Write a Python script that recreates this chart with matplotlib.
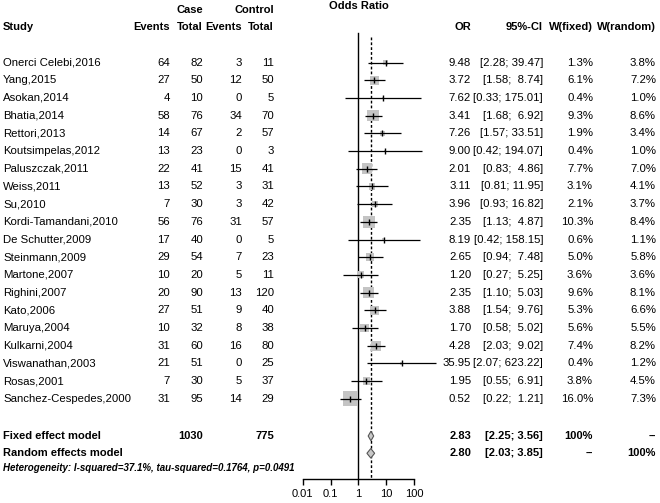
import matplotlib
matplotlib.use("Agg")
import matplotlib.pyplot as plt
from matplotlib.transforms import blended_transform_factory
import numpy as np

plt.rcParams['font.family'] = ['Liberation Sans', 'DejaVu Sans']

# study data
studies = ["Onerci Celebi,2016", "Yang,2015", "Asokan,2014", "Bhatia,2014",
           "Rettori,2013", "Koutsimpelas,2012", "Paluszczak,2011", "Weiss,2011",
           "Su,2010", "Kordi-Tamandani,2010", "De Schutter,2009", "Steinmann,2009",
           "Martone,2007", "Righini,2007", "Kato,2006", "Maruya,2004",
           "Kulkarni,2004", "Viswanathan,2003", "Rosas,2001", "Sanchez-Cespedes,2000"]
case_events = [64, 27, 4, 58, 14, 13, 22, 13, 7, 56, 17, 29, 10, 20, 27, 10, 31, 21, 7, 31]
case_total = [82, 50, 10, 76, 67, 23, 41, 52, 30, 76, 40, 54, 20, 90, 51, 32, 60, 51, 30, 95]
ctrl_events = [3, 12, 0, 34, 2, 0, 15, 3, 3, 31, 0, 7, 5, 13, 9, 8, 16, 0, 5, 14]
ctrl_total = [11, 50, 5, 70, 57, 3, 41, 31, 42, 57, 5, 23, 11, 120, 40, 38, 80, 25, 37, 29]
odds = [9.48, 3.72, 7.62, 3.41, 7.26, 9.00, 2.01, 3.11, 3.96, 2.35,
        8.19, 2.65, 1.20, 2.35, 3.88, 1.70, 4.28, 35.95, 1.95, 0.52]
ci_low = [2.28, 1.58, 0.33, 1.68, 1.57, 0.42, 0.83, 0.81, 0.93, 1.13,
          0.42, 0.94, 0.27, 1.10, 1.54, 0.58, 2.03, 2.07, 0.55, 0.22]
ci_high = [39.47, 8.74, 175.01, 6.92, 33.51, 194.07, 4.86, 11.95, 16.82, 4.87,
           158.15, 7.48, 5.25, 5.03, 9.76, 5.02, 9.02, 623.22, 6.91, 1.21]
w_fixed = [1.3, 6.1, 0.4, 9.3, 1.9, 0.4, 7.7, 3.1, 2.1, 10.3,
           0.6, 5.0, 3.6, 9.6, 5.3, 5.6, 7.4, 0.4, 3.8, 16.0]
w_random = [3.8, 7.2, 1.0, 8.6, 3.4, 1.0, 7.0, 4.1, 3.7, 8.4,
            1.1, 5.8, 3.6, 8.1, 6.6, 5.5, 8.2, 1.2, 4.5, 7.3]

fixed_or, fixed_lo, fixed_hi = 2.83, 2.25, 3.56
random_or, random_lo, random_hi = 2.80, 2.03, 3.85
case_sum, ctrl_sum = 1030, 775
het_text = "Heterogeneity: I-squared=37.1%, tau-squared=0.1764, p=0.0491"
tick_vals = [0.01, 0.1, 1, 10, 100]
tick_labels = ["0.01", "0.1", "1", "10", "100"]

W, H = 660, 503
fig = plt.figure(figsize=(6.6, 5.03), dpi=100)

# pixel geometry of the reference
row0, row_h = 62.5, 17.7
axis_px = 479
x001, dec = 302.7, 27.83
ax_left, ax_right = 290, 440


def row_of(py):
    return (py - row0) / row_h


ax = fig.add_axes([ax_left / W, (H - axis_px) / H, (ax_right - ax_left) / W, axis_px / H])
ax.set_xscale("log")
ax.set_xlim(10 ** (-2 - (x001 - ax_left) / dec), 10 ** (-2 + (ax_right - x001) / dec))
ax.set_ylim(row_of(axis_px), row_of(0))
ax.patch.set_visible(False)
for s in ["top", "left", "right"]:
    ax.spines[s].set_visible(False)
ax.spines["bottom"].set_bounds(0.01, 100)
ax.spines["bottom"].set_linewidth(1.0)
ax.set_yticks([])
ax.set_xticks(tick_vals)
ax.set_xticklabels(tick_labels, fontsize=8)
ax.xaxis.set_minor_locator(matplotlib.ticker.NullLocator())
ax.tick_params(axis="x", length=4, width=1, pad=3)

fs = 8.2
fs_bold = 8
ypos = np.arange(len(studies))

# reference lines
ax.plot([1, 1], [row_of(33), row_of(axis_px)], color="black", lw=1.0)
ax.plot([fixed_or, fixed_or], [row_of(37), row_of(axis_px)], color="black", lw=1.0,
        linestyle=(0, (2, 1.5)))

# boxes, CIs and point ticks
sides = 3.75 * np.sqrt(np.array(w_fixed))
ax.scatter(odds, ypos, s=(sides * 0.72) ** 2, marker="s", color="#c4c4c4",
           linewidths=0, zorder=2)
ax.hlines(ypos, ci_low, ci_high, color="black", lw=0.9, zorder=3)
ax.plot(odds, ypos, linestyle="none", marker="|", markersize=4, color="black",
        markeredgewidth=1.0, zorder=4)

# diamonds
y_fix, y_ran = row_of(436), row_of(453.3)
dh = 0.27
for est, lo, hi, yy in [(fixed_or, fixed_lo, fixed_hi, y_fix),
                        (random_or, random_lo, random_hi, y_ran)]:
    ax.fill([lo, est, hi, est], [yy, yy - dh, yy, yy + dh], facecolor="#c8c8c8",
            edgecolor="#555555", lw=0.8, zorder=5)

# text columns
tr = blended_transform_factory(fig.transFigure, ax.transData)


def txt(px, y, s, ha="right", bold=False, size=None, style="normal"):
    if size is None:
        size = fs_bold if bold else fs
    ax.text(px / W, y, s, transform=tr, ha=ha, va="center", fontsize=size,
            fontweight="bold" if bold else "normal", fontstyle=style, clip_on=False)


y_top, y_head = row_of(10), row_of(27)
txt(203, y_top, "Case", bold=True)
txt(274, y_top, "Control", bold=True)
txt(359, row_of(6), "Odds Ratio", ha="center", bold=True)
txt(3, y_head, "Study", ha="left", bold=True)
txt(170, y_head, "Events", bold=True)
txt(203, y_head, "Total", bold=True)
txt(242, y_head, "Events", bold=True)
txt(274, y_head, "Total", bold=True)
txt(471, y_head, "OR", bold=True)
txt(543, y_head, "95%-CI", bold=True)
txt(593, y_head, "W(fixed)", bold=True)
txt(656, y_head, "W(random)", bold=True)

for i in range(len(studies)):
    txt(3, i, studies[i], ha="left")
    txt(170, i, str(case_events[i]))
    txt(203, i, str(case_total[i]))
    txt(242, i, str(ctrl_events[i]))
    txt(274, i, str(ctrl_total[i]))
    txt(471, i, "%.2f" % odds[i])
    txt(543, i, "[%.2f; %5.2f]" % (ci_low[i], ci_high[i]))
    txt(593, i, "%.1f%%" % w_fixed[i])
    txt(656, i, "%.1f%%" % w_random[i])

txt(3, y_fix, "Fixed effect model", ha="left", bold=True)
txt(203, y_fix, str(case_sum), bold=True)
txt(274, y_fix, str(ctrl_sum), bold=True)
txt(471, y_fix, "%.2f" % fixed_or, bold=True)
txt(543, y_fix, "[%.2f; %.2f]" % (fixed_lo, fixed_hi), bold=True)
txt(593, y_fix, "100%", bold=True)
txt(656, y_fix, "--", bold=True)

txt(3, y_ran, "Random effects model", ha="left", bold=True)
txt(471, y_ran, "%.2f" % random_or, bold=True)
txt(543, y_ran, "[%.2f; %.2f]" % (random_lo, random_hi), bold=True)
txt(593, y_ran, "--", bold=True)
txt(656, y_ran, "100%", bold=True)

txt(3, row_of(468), het_text, ha="left", bold=True, size=7.0, style="italic")

fig.savefig("out.png", dpi=100)
